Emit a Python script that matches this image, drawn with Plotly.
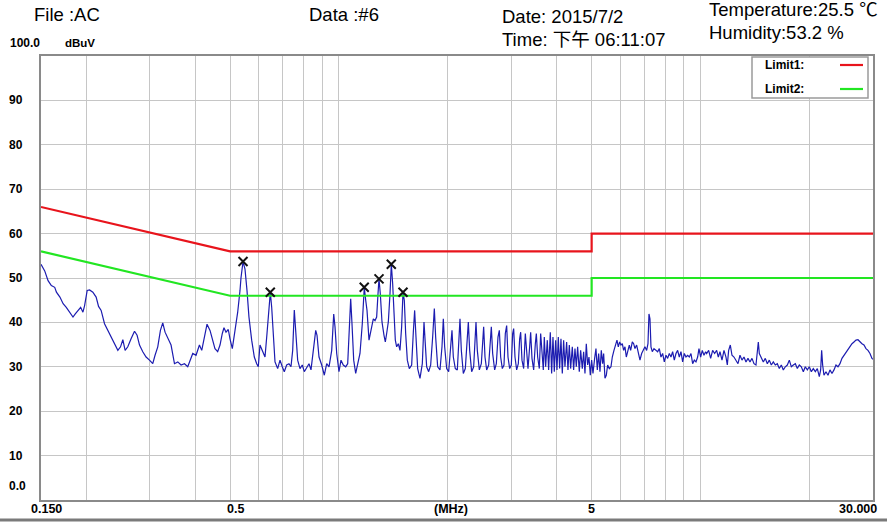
import math
import plotly.graph_objects as go

# ---------------- data ----------------
freq_mhz = [
    0.150, 0.1536, 0.1569, 0.1602, 0.1637, 0.1655, 0.1692, 0.1727, 0.1762, 0.1800,
    0.1839, 0.1866, 0.1898, 0.1931, 0.1959, 0.1980, 0.2013, 0.2044, 0.2087, 0.2131,
    0.2164, 0.2200, 0.2248, 0.2296, 0.2345, 0.2396, 0.2447, 0.2489, 0.2526, 0.2563,
    0.2607, 0.2662, 0.2721, 0.2766, 0.2809, 0.2868, 0.2929, 0.2993, 0.3056, 0.3101,
    0.3155, 0.3209, 0.3257, 0.3305, 0.3377, 0.3434, 0.3509, 0.3584, 0.3660, 0.3740,
    0.3819, 0.3885, 0.3943, 0.4026, 0.4114, 0.4175, 0.4247, 0.4318,
    0.4401, 0.4466, 0.4542, 0.4621, 0.4690, 0.4759, 0.4810, 0.4872, 0.4944, 0.4998,
    0.5072, 0.5160, 0.5249, 0.5327, 0.5360, 0.5430, 0.5499, 0.5569, 0.5640, 0.5738,
    0.5835, 0.5924, 0.5985, 0.6050, 0.6139, 0.6246, 0.6326, 0.6408, 0.6461, 0.6518,
    0.6585, 0.6657, 0.6771, 0.6872, 0.6972, 0.7062, 0.7170, 0.7277, 0.7370, 0.7450,
    0.7527, 0.7608, 0.7690, 0.7804, 0.7920, 0.8022, 0.8145, 0.8266, 0.8372, 0.8496,
    0.8627, 0.8699, 0.8810, 0.8963, 0.9113, 0.9252, 0.9390, 0.9552, 0.9675, 0.9755,
    0.9861, 1.0005, 1.0134, 1.0283, 1.0442, 1.0575, 1.0683, 1.0779, 1.0869, 1.0988,
    1.1127, 1.1271, 1.1436, 1.1606, 1.1754, 1.1861, 1.1960, 1.2113,
    1.2319, 1.2450, 1.2583, 1.2718, 1.2826, 1.2908, 1.3018, 1.3157, 1.3326, 1.3439,
    1.3554, 1.3698, 1.3845, 1.3963, 1.4082, 1.4202, 1.4323, 1.4445, 1.4599, 1.4755,
    1.4912, 1.5040, 1.5168, 1.5297, 1.5460, 1.5658, 1.5893, 1.6062, 1.6199, 1.6338,
    1.6512, 1.6759, 1.7010, 1.7192, 1.7338, 1.7486, 1.7710, 1.7937, 1.8167, 1.8361,
    1.8518, 1.8755, 1.9036, 1.9280, 1.9444, 1.9610, 1.9861, 2.0116, 2.0374, 2.0547,
    2.0723, 2.0988, 2.1257, 2.1438, 2.1621, 2.1806, 2.2085, 2.2368, 2.2607, 2.2800,
    2.2994, 2.3289, 2.3587, 2.3789, 2.3941, 2.4144, 2.4454, 2.4767, 2.4979, 2.5138,
    2.5353, 2.5623, 2.5952, 2.6173, 2.6396, 2.6621, 2.6962, 2.7250, 2.7541, 2.7776,
    2.8013, 2.8311, 2.8613, 2.8857, 2.9104, 2.9352, 2.9665, 2.9982, 3.0237, 3.0430,
    3.0690, 3.1017, 3.1348, 3.1616, 3.1818, 3.2089, 3.2431, 3.2777, 3.2987, 3.3339,
    3.3695, 3.3910, 3.4199, 3.4564, 3.4933, 3.5156, 3.5456, 3.5834, 3.6140, 3.6370,
    3.6753, 3.6987, 3.7303, 3.7701, 3.8022, 3.8428, 3.8756, 3.9086, 3.9420, 3.9756,
    4.0095, 4.0437, 4.0781, 4.1129, 4.1480, 4.1833, 4.2190, 4.2640, 4.3004, 4.3370,
    4.3740, 4.4207, 4.4584, 4.4964, 4.5348, 4.5734, 4.6222, 4.6617, 4.7114, 4.7516,
    4.7921, 4.8330, 4.8742, 4.9157, 4.9577, 5.0000, 5.0426, 5.0964, 5.1399, 5.1837,
    5.2279, 5.2724, 5.3174, 5.3628, 5.3970, 5.4431, 5.4895, 5.5363, 5.5954, 5.6551,
    5.7033, 5.7642, 5.8257, 5.8754, 5.9255, 5.9760, 6.0270, 6.0783, 6.1302, 6.1824,
    6.2351, 6.2883, 6.3554, 6.4096, 6.4780, 6.5332, 6.5889, 6.6592, 6.7303, 6.8021,
    6.8746, 6.9480, 7.0221, 7.0971, 7.1576, 7.2033, 7.2493, 7.2956, 7.3578, 7.4363,
    7.5157, 7.6120, 7.6933, 7.7753, 7.8583, 7.9421, 8.0269, 8.1125, 8.1991, 8.2866,
    8.3750, 8.4644, 8.5547, 8.6460, 8.7382, 8.8315, 8.9257, 9.0209, 9.1172, 9.2145,
    9.3128, 9.4122, 9.5126, 9.6141, 9.7167, 9.8204, 9.9041, 10.0098, 10.1166, 10.2246,
    10.3337,
    10.400, 10.534, 10.669, 10.805, 10.944, 11.084, 11.202, 11.322, 11.467, 11.614,
    11.763, 11.863, 11.964, 12.092, 12.221, 12.378, 12.536, 12.697, 12.860, 13.025,
    13.192, 13.361, 13.532, 13.705, 13.881, 14.059, 14.239, 14.361, 14.453, 14.545,
    14.731, 14.920, 15.111, 15.305, 15.501, 15.700, 15.901, 16.105, 16.311, 16.520,
    16.732, 16.947, 17.164, 17.384, 17.607, 17.833, 18.061, 18.293, 18.527, 18.764,
    19.005, 19.249, 19.495, 19.745, 19.998, 20.255, 20.514, 20.777, 21.044, 21.313,
    21.495, 21.632, 21.771, 21.956, 22.237, 22.523, 22.811, 23.104, 23.400, 23.700,
    24.003, 24.311, 24.623, 24.938, 25.258, 25.582, 25.910, 26.242, 26.578, 26.919,
    27.264, 27.613, 27.967, 28.326, 28.689, 29.057, 29.429, 29.806, 30.000,
]
level_dbuv = [
    53.1, 51.6, 49.4, 48.3, 47.9, 46.8, 45.7, 44.2, 43.4, 42.3,
    41.2, 41.9, 42.7, 43.4, 42.3, 43.8, 47.2, 47.3, 46.8, 45.7,
    43.6, 42.7, 39.7, 38.2, 36.7, 34.9, 33.7, 34.5, 36.1, 33.7,
    34.5, 36.3, 38.0, 37.1, 34.9, 33.4, 32.2, 31.5, 30.7, 32.6,
    34.5, 38.2, 39.9, 37.8, 36.3, 34.9, 30.7, 31.1, 30.4, 30.7,
    30.0, 31.5, 33.0, 32.6, 34.9, 33.7, 37.1, 39.6,
    38.2, 36.0, 34.1, 33.4, 34.9, 37.5, 38.8, 37.8, 38.4, 36.3,
    34.1, 38.2, 42.3, 47.2, 50.0, 53.7, 52.0, 47.2, 41.2, 36.0,
    32.2, 30.7, 30.0, 34.9, 33.7, 32.2, 37.5, 44.2, 46.8, 43.4,
    36.7, 31.1, 29.6, 31.5, 30.0, 28.9, 30.4, 30.7, 30.0, 33.7,
    42.8, 37.5, 31.5, 29.6, 30.4, 28.9, 30.0, 30.7, 29.3, 33.7,
    38.2, 37.1, 32.2, 30.4, 28.1, 30.7, 30.0, 33.7, 41.9, 39.0,
    33.0, 28.9, 31.5, 30.4, 30.0, 30.7, 38.2, 45.3, 39.7, 31.5,
    28.5, 30.7, 33.0, 39.7, 47.9, 45.0, 42.7, 36.0,
    39.0, 40.8, 40.4, 41.2, 46.4, 49.8, 46.4, 40.1, 37.1, 35.6,
    37.5, 40.1, 46.4, 53.1, 48.7, 40.4, 36.0, 34.5, 35.2, 33.7,
    39.0, 46.8, 44.9, 37.5, 31.5, 29.6, 30.4, 37.8, 42.7, 36.7,
    29.6, 27.4, 30.7, 40.1, 35.2, 30.0, 28.9, 30.4, 36.7, 43.1,
    36.7, 30.0, 29.3, 34.5, 40.8, 34.5, 29.6, 28.9, 34.5, 38.2,
    32.2, 29.6, 29.3, 36.7, 40.8, 33.7, 28.5, 29.6, 34.5, 40.1,
    33.7, 28.9, 30.0, 36.7, 40.1, 33.7, 29.3, 30.7, 37.5, 39.0,
    32.2, 29.3, 30.4, 36.0, 39.0, 33.0, 29.3, 30.7, 36.7, 38.2,
    32.2, 29.6, 30.4, 37.5, 39.3, 32.2, 29.6, 30.4, 37.5, 38.6,
    32.2, 29.3, 30.7, 36.3, 37.8, 31.5, 29.6, 37.5, 33.7, 29.6,
    34.5, 37.8, 31.9, 29.3, 35.2, 37.5, 32.2, 29.6, 37.5, 34.5,
    29.3, 36.7, 30.0, 36.0, 29.3, 37.8, 28.5, 36.7, 28.9, 36.0,
    29.3, 36.7, 29.6, 36.3, 28.5, 36.0, 30.0, 35.6, 29.3, 34.9,
    29.6, 34.5, 29.3, 34.1, 30.0, 34.5, 28.9, 33.7, 29.6, 33.4,
    28.5, 35.2, 30.4, 32.2, 28.1, 31.5, 28.5, 31.9, 34.1, 29.3,
    33.0, 28.9, 33.7, 30.7, 33.0, 27.4, 28.1, 30.4, 29.6, 30.0,
    32.2, 33.7, 34.9, 36.0, 34.5, 35.6, 34.9, 35.2, 33.7, 34.5,
    32.2, 33.7, 34.9, 33.7, 35.6, 35.2, 34.1, 34.9, 33.0, 31.5,
    33.0, 33.7, 34.5, 33.7, 35.2, 41.9, 40.8, 34.5, 33.4, 34.1,
    33.7, 33.4, 34.1, 32.2, 33.0, 31.1, 32.6, 31.9, 33.0, 32.2,
    33.4, 31.5, 33.0, 33.7, 32.2, 33.4, 31.1, 33.0, 32.2, 32.6,
    32.2, 33.0, 30.7, 31.5, 31.1, 32.2, 34.1, 32.2, 33.7, 32.6,
    33.4,
    33.0, 33.7, 31.9, 33.7, 33.0, 33.7, 32.2, 33.4, 31.5, 33.7,
    32.2, 30.4, 33.7, 34.9, 32.6, 32.2, 31.5, 30.7, 32.6, 31.5,
    32.2, 31.1, 31.9, 31.1, 31.9, 30.7, 30.4, 33.0, 35.6, 33.0,
    31.9, 31.1, 31.9, 30.7, 31.5, 30.4, 31.1, 30.4, 30.7, 29.6,
    30.4, 29.3, 30.0, 30.4, 31.5, 30.0, 30.4, 30.7, 29.6, 30.4,
    30.0, 28.9, 30.0, 29.3, 30.0, 28.9, 29.6, 28.9, 29.6, 27.8,
    29.3, 33.7, 30.4, 28.1, 28.9, 28.1, 29.3, 28.5, 29.3, 30.4,
    30.0, 30.7, 31.9, 32.6, 33.0, 33.7, 34.5, 35.2, 35.6, 36.0,
    36.1, 35.6, 35.2, 34.9, 34.1, 33.7, 33.0, 31.9, 31.7,
]

limit_freq = [0.15, 0.5, 5.0, 5.0, 30.0]
limit1_dbuv = [66, 56, 56, 60, 60]
limit2_dbuv = [56, 46, 46, 50, 50]

peak_freq = [0.543, 0.646, 1.175, 1.291, 1.396, 1.504]
peak_dbuv = [53.7, 46.8, 47.9, 49.8, 53.1, 46.8]

grid_freq = [0.15, 0.2, 0.3, 0.4, 0.5, 0.6, 0.7, 0.8, 0.9, 1, 2, 3, 4, 5, 6, 7, 8, 9, 10, 20, 30]
y_ticks = [10, 20, 30, 40, 50, 60, 70, 80, 90]
x_labels = [(0.15, "0.150"), (0.5, "0.5"), (2.0, "(MHz)"), (5.0, "5"), (30.0, "30.000")]

# ---------------- figure ----------------
FONT = "Liberation Sans, Arial, Noto Sans CJK SC, sans-serif"
BLUE = "#1c1cb0"
RED = "#e8141c"
GREEN = "#22e622"
GRID = "#c6c6c6"
FRAME = "#8a8a8a"

fig = go.Figure()
fig.add_trace(go.Scatter(x=freq_mhz, y=level_dbuv, mode="lines",
                         line=dict(color=BLUE, width=1.2), hoverinfo="skip"))
fig.add_trace(go.Scatter(x=limit_freq, y=limit1_dbuv, mode="lines",
                         line=dict(color=RED, width=2.2), hoverinfo="skip"))
fig.add_trace(go.Scatter(x=limit_freq, y=limit2_dbuv, mode="lines",
                         line=dict(color=GREEN, width=2.2), hoverinfo="skip"))
fig.add_trace(go.Scatter(x=peak_freq, y=peak_dbuv, mode="markers",
                         marker=dict(symbol="x-thin", size=9,
                                     line=dict(color="#111111", width=2)),
                         hoverinfo="skip"))

L, R, T, B = 41, 14, 56, 22
W, H = 887, 522
PW, PH = W - L - R, H - T - B


def px(x):
    return (x - L) / PW


def py(y):
    return (H - B - y) / PH


TICK_FONT = dict(family=FONT, size=12, color="#000000")
annotations = []
# y tick labels
for v in y_ticks:
    annotations.append(dict(xref="paper", yref="y", x=px(7), y=v, text=str(v),
                            xanchor="left", yanchor="middle", showarrow=False,
                            font=TICK_FONT))
annotations.append(dict(xref="paper", yref="paper", x=px(7), y=py(486), text="0.0",
                        xanchor="left", yanchor="middle", showarrow=False, font=TICK_FONT))
annotations.append(dict(xref="paper", yref="paper", x=px(8), y=py(43), text="100.0",
                        xanchor="left", yanchor="middle", showarrow=False,
                        font=dict(family=FONT, size=12, color="#000")))
annotations.append(dict(xref="paper", yref="paper", x=px(63), y=py(43), text="dBuV",
                        xanchor="left", yanchor="middle", showarrow=False,
                        font=dict(family=FONT, size=11.5, color="#000")))
# x labels
x_shift = {"0.150": 5, "0.5": 5, "(MHz)": 3, "5": 0, "30.000": 6}
for f, t in x_labels:
    annotations.append(dict(xref="x", yref="paper", x=math.log10(f), y=py(509), text=t,
                            xanchor="right" if t == "30.000" else "center",
                            xshift=x_shift[t], yanchor="middle", showarrow=False,
                            font=dict(family=FONT, size=12.5, color="#000")))
# header
header = [
    ("File :AC", 32, 15),
    ("Data :#6", 307, 15),
    ("Date: 2015/7/2", 500, 16),
    ("Time: 下午 06:11:07", 500, 39),
    ("Temperature:25.5 ℃", 707, 9),
    ("Humidity:53.2 %", 707, 33),
]
for t, x, y in header:
    annotations.append(dict(xref="paper", yref="paper", x=px(x), y=py(y), text=t,
                            xanchor="left", yanchor="middle", showarrow=False,
                            font=dict(family=FONT, size=18.5, color="#000")))
# legend texts
for t, y in [("Limit1:", 65), ("Limit2:", 89)]:
    annotations.append(dict(xref="paper", yref="paper", x=px(763), y=py(y), text=t,
                            xanchor="left", yanchor="middle", showarrow=False,
                            font=dict(family=FONT, size=12, color="#000")))

# bold the small labels
for a in annotations:
    if a["font"]["size"] <= 13:
        a["text"] = "<b>" + a["text"] + "</b>"

shapes = [
    dict(type="rect", xref="paper", yref="paper", x0=px(752), x1=px(868),
         y0=py(98), y1=py(57), fillcolor="#ffffff", line=dict(color="#9a9a9a", width=1.5),
         layer="above"),
    dict(type="line", xref="paper", yref="paper", x0=px(840), x1=px(863),
         y0=py(65), y1=py(65), line=dict(color=RED, width=2.2)),
    dict(type="line", xref="paper", yref="paper", x0=px(840), x1=px(863),
         y0=py(89), y1=py(89), line=dict(color=GREEN, width=2.2)),
    dict(type="line", xref="paper", yref="paper", x0=px(0), x1=px(W),
         y0=py(520), y1=py(520), line=dict(color="#7a7a7a", width=3)),
]

fig.update_layout(
    width=W, height=H,
    margin=dict(l=L, r=R, t=T, b=B, pad=0),
    paper_bgcolor="#ffffff", plot_bgcolor="#ffffff",
    showlegend=False,
    xaxis=dict(type="log", range=[math.log10(0.15), math.log10(30)],
               tickvals=grid_freq, showticklabels=False, ticks="",
               showgrid=True, gridcolor=GRID, gridwidth=1,
               showline=True, mirror=True, linecolor=FRAME, linewidth=2,
               zeroline=False, fixedrange=True),
    yaxis=dict(range=[0, 100], tickvals=[0] + y_ticks + [100], showticklabels=False,
               ticks="", showgrid=True, gridcolor=GRID, gridwidth=1,
               showline=True, mirror=True, linecolor=FRAME, linewidth=2,
               zeroline=False, fixedrange=True),
    annotations=annotations,
    shapes=shapes,
)

fig.write_html("out.html",
               config={"displayModeBar": False, "staticPlot": True},
               post_script="document.body.style.margin='0';document.body.style.overflow='hidden';")
